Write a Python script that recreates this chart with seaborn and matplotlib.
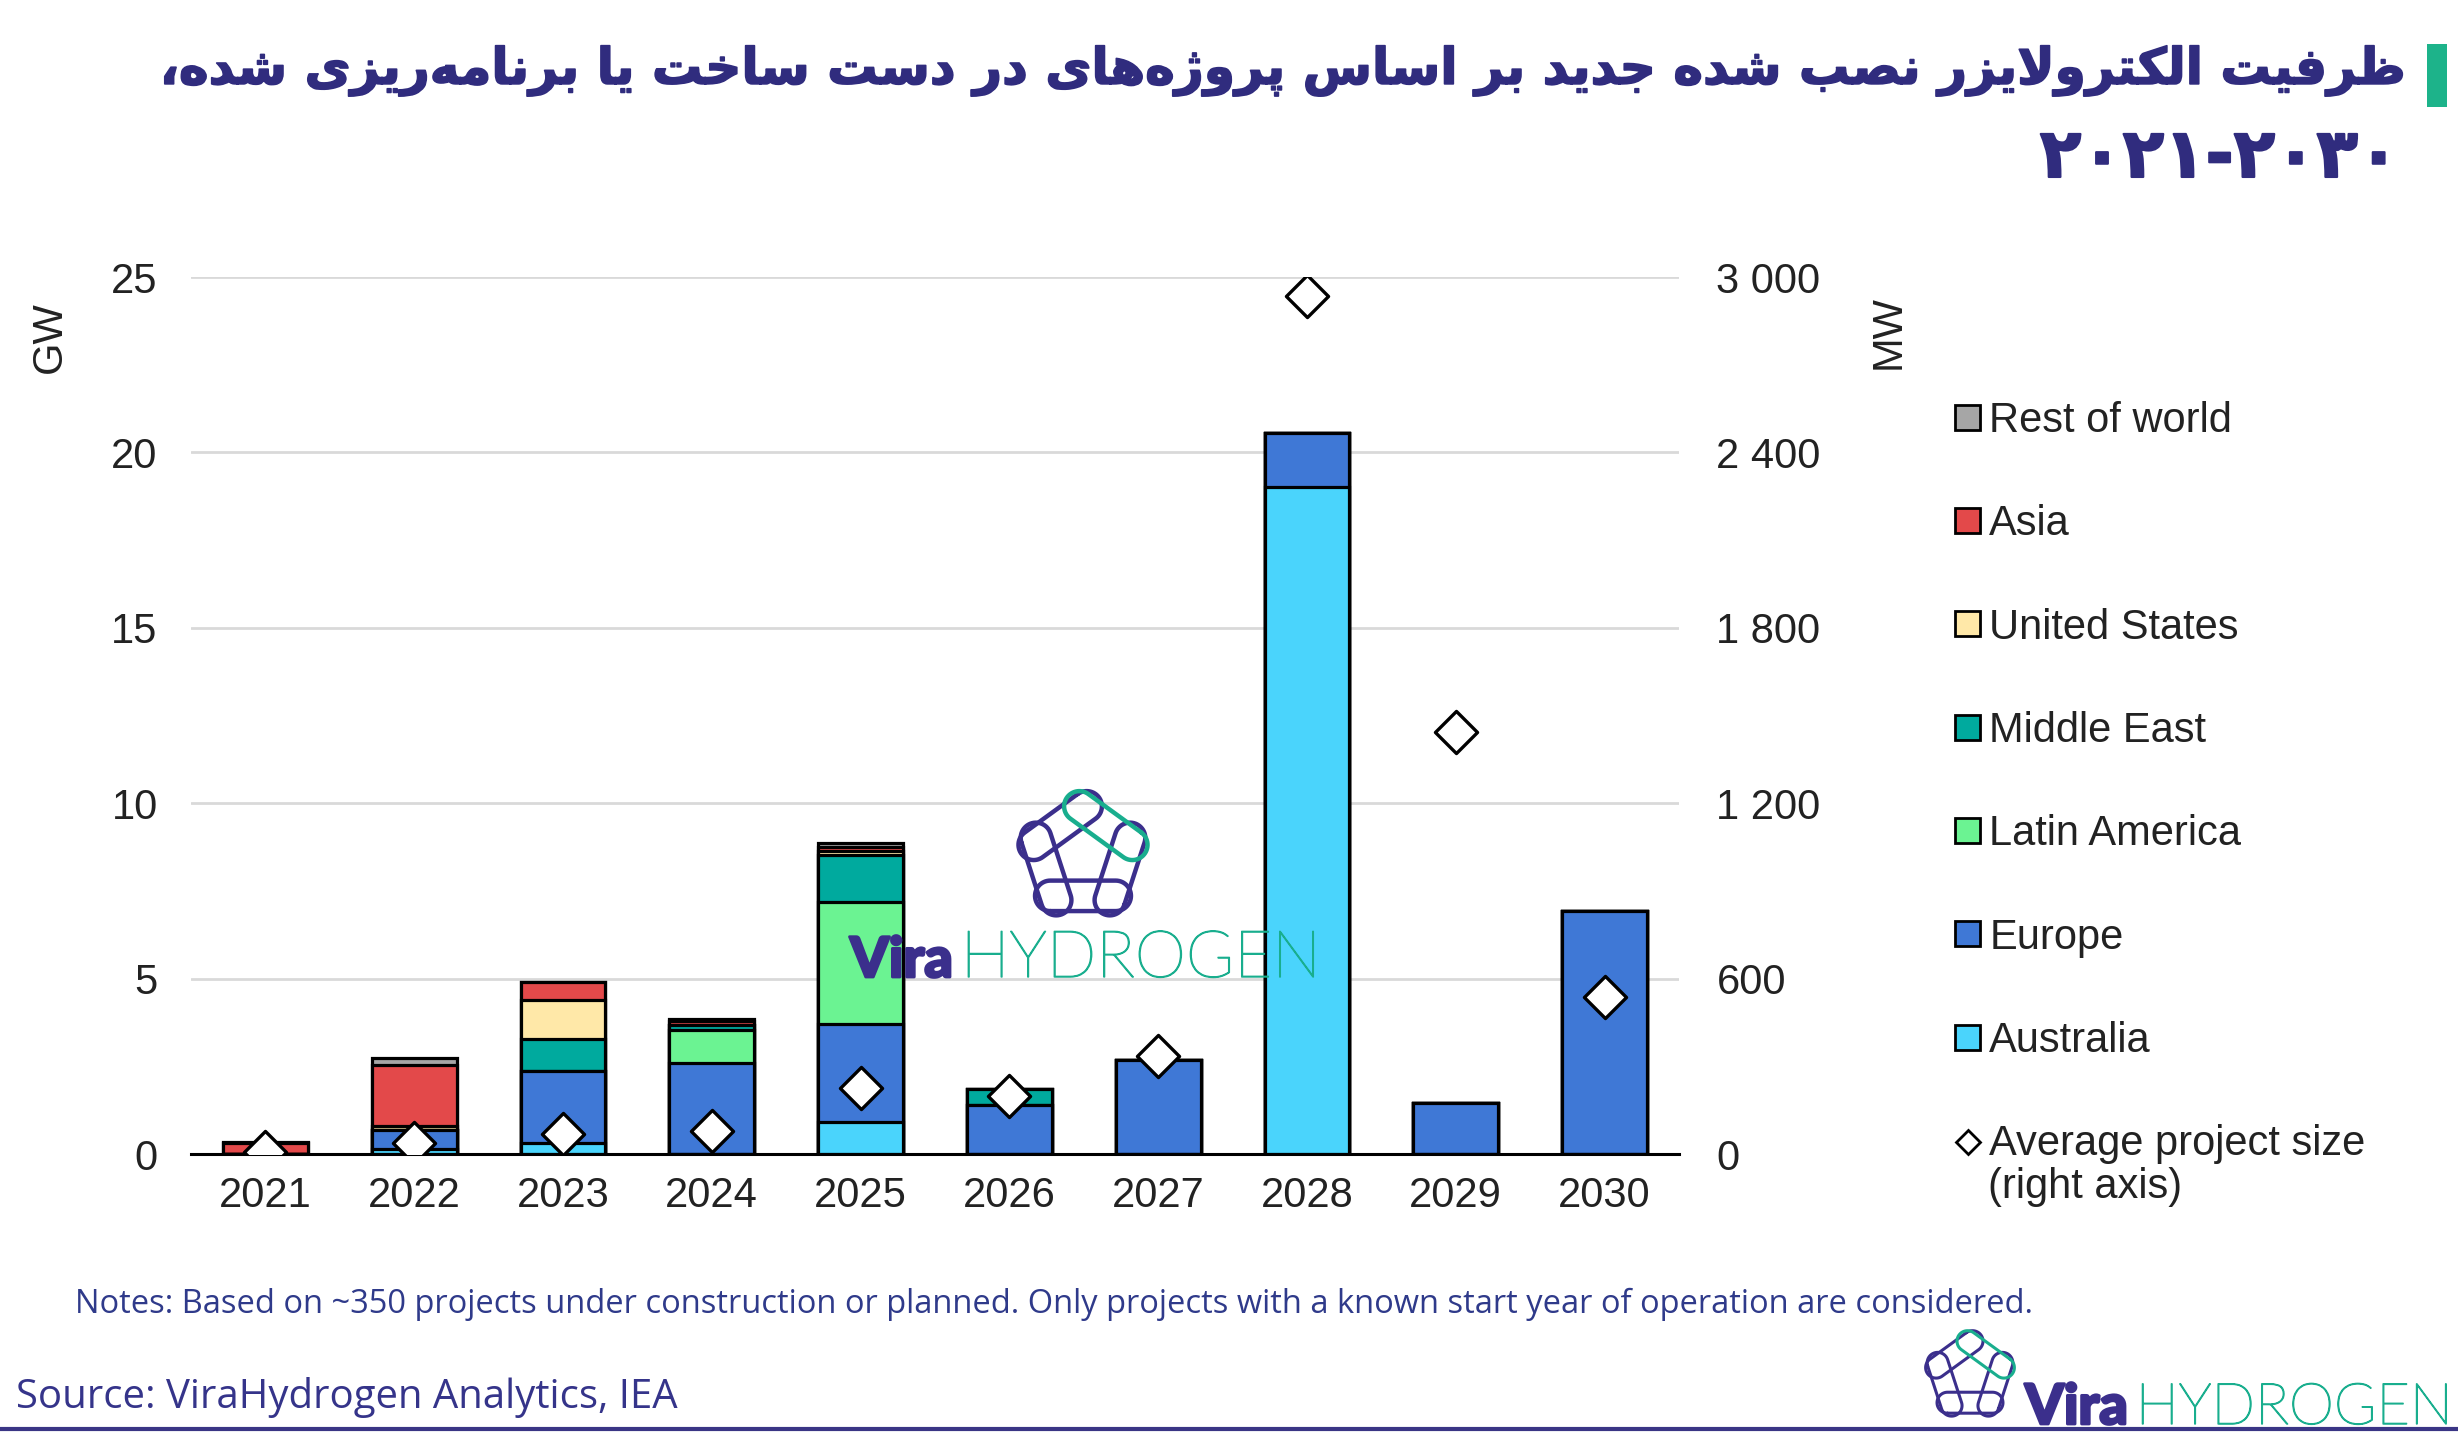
import numpy as np
import pandas as pd
import matplotlib
matplotlib.use("Agg")
import matplotlib.pyplot as plt
import matplotlib.patheffects as pe
import seaborn as sns
from matplotlib.patches import Patch, Rectangle
from matplotlib.lines import Line2D

# ---------------- data ----------------
years = ["2021", "2022", "2023", "2024", "2025", "2026", "2027", "2028", "2029", "2030"]
australia     = [0.00, 0.15, 0.32, 0.00, 0.92, 0.00, 0.00, 19.00, 0.00, 0.00]
europe        = [0.00, 0.53, 2.06, 2.58, 2.79, 1.40, 2.69, 1.54, 1.45, 6.94]
latin_america = [0.00, 0.00, 0.00, 0.95, 3.48, 0.00, 0.00, 0.00, 0.00, 0.00]
middle_east   = [0.00, 0.00, 0.89, 0.15, 1.33, 0.45, 0.00, 0.00, 0.00, 0.00]
united_states = [0.00, 0.12, 1.12, 0.00, 0.12, 0.00, 0.00, 0.00, 0.00, 0.00]
asia          = [0.30, 1.75, 0.52, 0.12, 0.10, 0.00, 0.00, 0.00, 0.00, 0.00]
rest_of_world = [0.05, 0.18, 0.00, 0.05, 0.12, 0.00, 0.00, 0.00, 0.00, 0.00]
avg_project_mw = [8, 37, 67, 80, 225, 200, 334, 2935, 1445, 536]

series_names = ["Rest of world", "Asia", "United States", "Middle East",
                "Latin America", "Europe", "Australia"]
series_vals = [rest_of_world, asia, united_states, middle_east,
               latin_america, europe, australia]
series_cols = ["#A6A6A6", "#E3494A", "#FFE8A8", "#00AA9E",
               "#6BF392", "#3F78D6", "#4AD4FC"]

left_ticks = [0, 5, 10, 15, 20, 25]
right_ticks = [0, 600, 1200, 1800, 2400, 3000]

title_line1 = "ظرفیت الکترولایزر نصب شده جدید بر اساس پروژه‌های در دست ساخت یا برنامه‌ریزی شده،"
title_line2 = "۲۰۲۱-۲۰۳۰"
notes_text = ("Notes: Based on ~350 projects under construction or planned. "
              "Only projects with a known start year of operation are considered.")
source_text = "Source: ViraHydrogen Analytics, IEA"

# ---------------- Persian shaping (presentation forms + visual order) -------------
FORMS = {
    'ا': ('\uFE8D', '\uFE8E', None, None),
    'آ': ('\uFE81', '\uFE82', None, None),
    'ب': ('\uFE8F', '\uFE90', '\uFE91', '\uFE92'),
    'پ': ('\uFB56', '\uFB57', '\uFB58', '\uFB59'),
    'ت': ('\uFE95', '\uFE96', '\uFE97', '\uFE98'),
    'ج': ('\uFE9D', '\uFE9E', '\uFE9F', '\uFEA0'),
    'خ': ('\uFEA5', '\uFEA6', '\uFEA7', '\uFEA8'),
    'د': ('\uFEA9', '\uFEAA', None, None),
    'ر': ('\uFEAD', '\uFEAE', None, None),
    'ز': ('\uFEAF', '\uFEB0', None, None),
    'ژ': ('\uFB8A', '\uFB8B', None, None),
    'س': ('\uFEB1', '\uFEB2', '\uFEB3', '\uFEB4'),
    'ش': ('\uFEB5', '\uFEB6', '\uFEB7', '\uFEB8'),
    'ص': ('\uFEB9', '\uFEBA', '\uFEBB', '\uFEBC'),
    'ظ': ('\uFEC5', '\uFEC6', '\uFEC7', '\uFEC8'),
    'ف': ('\uFED1', '\uFED2', '\uFED3', '\uFED4'),
    'ک': ('\uFB8E', '\uFB8F', '\uFB90', '\uFB91'),
    'ل': ('\uFEDD', '\uFEDE', '\uFEDF', '\uFEE0'),
    'م': ('\uFEE1', '\uFEE2', '\uFEE3', '\uFEE4'),
    'ن': ('\uFEE5', '\uFEE6', '\uFEE7', '\uFEE8'),
    'ه': ('\uFEE9', '\uFEEA', '\uFEEB', '\uFEEC'),
    'و': ('\uFEED', '\uFEEE', None, None),
    'ی': ('\uFBFC', '\uFBFD', '\uFBFE', '\uFBFF'),
}


def shape_fa(s):
    s = s.replace('\u064A', '\u06CC').replace('\u0643', '\u06A9')
    ch = list(s)
    n = len(ch)
    out = []
    i = 0
    while i < n:
        c = ch[i]
        if c not in FORMS:
            if c != '\u200c':
                out.append(c)
            i += 1
            continue
        prev = ch[i - 1] if i > 0 else None
        join_prev = prev in FORMS and FORMS[prev][2] is not None
        if c == 'ل' and i + 1 < n and ch[i + 1] == 'ا':
            out.append('\uFEFC' if join_prev else '\uFEFB')
            i += 2
            continue
        nxt = ch[i + 1] if i + 1 < n else None
        join_next = FORMS[c][2] is not None and nxt in FORMS
        iso, fin, ini, med = FORMS[c]
        if join_prev and join_next:
            out.append(med)
        elif join_prev:
            out.append(fin)
        elif join_next:
            out.append(ini)
        else:
            out.append(iso)
        i += 1
    return ''.join(reversed(out))


# ---------------- figure ----------------
sns.set_style("white")
plt.rcParams['font.family'] = ['Liberation Sans', 'DejaVu Sans']

W, H = 2458, 1434
fig = plt.figure(figsize=(W / 100, H / 100), dpi=100)


def fx(px):
    return px / W


def fy(py):
    return 1 - py / H


ax = fig.add_axes([fx(191), fy(1154), (1679 - 191) / W, (1154 - 277) / H])

# stacked bars: draw cumulative totals from the top series down
cum = np.zeros(len(years))
stack = []
for vals in reversed(series_vals):
    cum = cum + np.array(vals)
    stack.append(cum.copy())
stack = stack[::-1]  # stack[0] = total (Rest of world top)
for name, col, top in zip(series_names, series_cols, stack):
    df = pd.DataFrame({"year": years, "value": top})
    sns.barplot(data=df, x="year", y="value", color=col, saturation=1,
                width=0.57, edgecolor="black", linewidth=2.3, errorbar=None,
                ax=ax, zorder=3)

ax.set_xlim(-0.5, 9.5)
ax.set_ylim(0, 25)
ax.set_yticks(left_ticks)
ax.set_xlabel("")
ax.set_ylabel("")
ax.yaxis.grid(True, color="#D9D9D9", linewidth=2.0, zorder=0)
ax.xaxis.grid(False)
ax.set_axisbelow(True)
for s in ["top", "left", "right"]:
    ax.spines[s].set_visible(False)
ax.spines["bottom"].set_color("black")
ax.spines["bottom"].set_linewidth(2.2)
ax.spines["bottom"].set_zorder(4)
ax.tick_params(axis="x", length=0, pad=16, labelsize=30, labelcolor="#222222")
ax.tick_params(axis="y", length=0, pad=24, labelsize=30, labelcolor="#222222")

ax2 = ax.twinx()
sns.scatterplot(x=years, y=avg_project_mw, marker="D", s=460, color="white",
                edgecolor="black", linewidth=2.4, ax=ax2, zorder=5, legend=False)
ax2.set_ylim(0, 3000)
ax2.set_yticks(right_ticks)
ax2.set_yticklabels([f"{v:,}".replace(",", " ") for v in right_ticks])
ax2.set_ylabel("")
for s in ["top", "left", "right", "bottom"]:
    ax2.spines[s].set_visible(False)
ax2.tick_params(axis="y", length=0, pad=27, labelsize=30, labelcolor="#222222")
ax2.grid(False)

fig.text(fx(50), fy(337), "GW", rotation=90, ha="center", va="center",
         fontsize=30, color="#222222")
fig.text(fx(1889), fy(332), "MW", rotation=90, ha="center", va="center",
         fontsize=30, color="#222222")

# legend
handles = [Patch(facecolor=c, edgecolor="black", linewidth=2.0) for c in series_cols]
handles.append(Line2D([], [], marker="D", linestyle="none", markerfacecolor="white",
                      markeredgecolor="black", markersize=12, markeredgewidth=2.0))
labels = series_names + ["Average project size"]
leg = fig.legend(handles, labels, loc="upper left",
                 bbox_to_anchor=(fx(1955), fy(401)), frameon=False,
                 fontsize=30, handlelength=0.6, handleheight=0.55,
                 handletextpad=0.22, labelspacing=1.52, borderpad=0,
                 borderaxespad=0)
for t in leg.get_texts():
    t.set_color("#222222")
fig.text(fx(1988), fy(1187), "(right axis)", ha="left", va="center",
         fontsize=30, color="#222222")

# ---------------- titles / notes ----------------
NAVY = "#302C7E"
fig.canvas.draw()
renderer = fig.canvas.get_renderer()


def fit_width(t, target):
    w = t.get_window_extent(renderer).width
    t.set_fontsize(t.get_fontsize() * target / w)


t1 = fig.text(fx(2406), fy(71), shape_fa(title_line1), ha="right", va="center",
              fontsize=40, fontweight="bold", color=NAVY,
              family=["DejaVu Sans"],
              path_effects=[pe.withStroke(linewidth=1.2, foreground=NAVY)])
fit_width(t1, 2406 - 161)
t2 = fig.text(fx(2400), fy(158), title_line2, ha="right", va="center",
              fontsize=t1.get_fontsize() * 1.35, fontweight="bold", color=NAVY,
              family=["DejaVu Sans"],
              path_effects=[pe.withStroke(linewidth=1.5, foreground=NAVY)])
fig.add_artist(Rectangle((fx(2427), fy(107)), (2447 - 2427) / W, (107 - 44) / H,
                         transform=fig.transFigure, color="#1DB38A", lw=0))

tn = fig.text(fx(75), fy(1304), notes_text, ha="left", va="center",
              fontsize=21, color="#2F3A8A", family=["Open Sans", "DejaVu Sans"])
fit_width(tn, 1963)
ts = fig.text(fx(16), fy(1398), source_text, ha="left", va="center",
              fontsize=25, color="#35348A", family=["Open Sans", "DejaVu Sans"])
fit_width(ts, 663)

fig.add_artist(Line2D([0, 1], [fy(1429), fy(1429)], transform=fig.transFigure,
                      color="#3A3585", linewidth=3))

# ---------------- logos ----------------
LOGO_NAVY = "#3B2F8C"
LOGO_TEAL = "#19AE8E"


def draw_logo(cx, cy, R, lw, z=10):
    angs = np.deg2rad(90 + 72 * np.arange(5))
    vx = cx + R * np.cos(angs)
    vy = cy - R * np.sin(angs)
    edge = 2 * R * np.sin(np.pi / 5)
    h = 0.27 * edge
    ext = 0.08 * edge
    for k in range(5):
        ax_, ay_ = vx[k], vy[k]
        bx, by = vx[(k + 1) % 5], vy[(k + 1) % 5]
        ux, uy = bx - ax_, by - ay_
        L = np.hypot(ux, uy)
        ux, uy = ux / L, uy / L
        ax_, ay_ = ax_ - ext * ux, ay_ - ext * uy
        bx, by = bx + ext * ux, by + ext * uy
        nx_, ny_ = -uy, ux
        base = np.arctan2(ny_, nx_)
        t = np.linspace(0, np.pi, 30)
        arc_b = [(bx + h * np.cos(base - tt), by + h * np.sin(base - tt)) for tt in t]
        arc_a = [(ax_ + h * np.cos(base + np.pi - tt), ay_ + h * np.sin(base + np.pi - tt)) for tt in t]
        pts = [(ax_ + h * nx_, ay_ + h * ny_)] + arc_b + arc_a + [(ax_ + h * nx_, ay_ + h * ny_)]
        pts = np.array(pts)
        col = LOGO_TEAL if k == 4 else LOGO_NAVY
        fig.add_artist(Line2D(pts[:, 0] / W, 1 - pts[:, 1] / H, transform=fig.transFigure,
                              color=col, linewidth=lw, solid_capstyle="round", zorder=z))


def draw_wordmark(x0, baseline, x1, size, stroke):
    tv = fig.text(fx(x0), fy(baseline), "Vira", ha="left", va="baseline",
                  fontsize=size, fontweight="black", color=LOGO_NAVY,
                  family=["Lato", "DejaVu Sans"], zorder=10,
                  path_effects=[pe.withStroke(linewidth=stroke, foreground=LOGO_NAVY)])
    bb = tv.get_window_extent(renderer)
    xs = bb.x1 + 8
    th = fig.text(xs / W, fy(baseline), "HYDROGEN", ha="left", va="baseline",
                  fontsize=size, fontweight="light", color=LOGO_TEAL,
                  family=["Lato", "DejaVu Sans"], zorder=10,
                  path_effects=[pe.withStroke(linewidth=1.0, foreground=LOGO_TEAL)])
    wh = th.get_window_extent(renderer).width
    th.set_fontsize(size * (x1 - xs) / wh)


draw_logo(1083, 857, 48, 3.2)
draw_wordmark(850, 977, 1320, 40, 2.0)
draw_logo(1970, 1376, 33, 2.2)
draw_wordmark(2025, 1424, 2452, 40, 2.0)

fig.savefig("out.png", dpi=100, facecolor="white")
